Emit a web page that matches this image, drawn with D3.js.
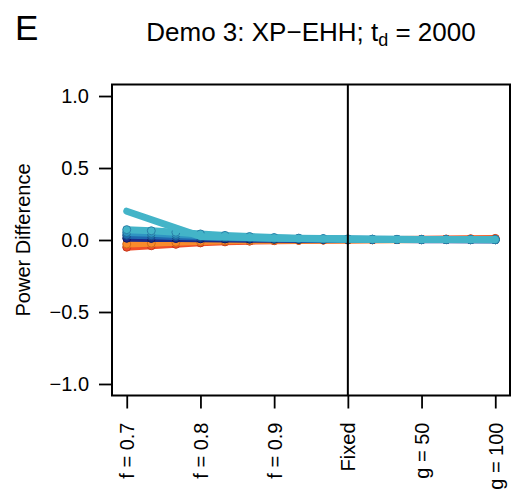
<!DOCTYPE html>
<html>
<head>
<meta charset="utf-8">
<script src="https://cdn.jsdelivr.net/npm/d3@7"></script>
<style>
body { margin: 0; background: #fff; }
text { font-family: "Liberation Sans", Arial, sans-serif; }
</style>
</head>
<body>
<script>
var categories = ["f = 0.7", "f = 0.8", "f = 0.9", "Fixed", "g = 50", "g = 100"];
var yTicks = [-1, -0.5, 0, 0.5, 1];

// 16 points per series, every third of a category step
var redVals    = [-0.050, -0.040, -0.030, -0.020, -0.013, -0.008, -0.005, -0.003, -0.001, 0.000, 0.002, 0.003, 0.005, 0.007, 0.009, 0.011];
var orangeVals = [-0.028, -0.022, -0.016, -0.010, -0.006, -0.004, -0.002, -0.001, 0.000, 0.000, 0.001, 0.002, 0.003, 0.004, 0.005, 0.006];
var navyVals   = [0.012, 0.011, 0.010, 0.008, 0.007, 0.006, 0.005, 0.004, 0.004, 0.003, 0.003, 0.003, 0.002, 0.002, 0.002, 0.002];
var blueVals   = [0.033, 0.029, 0.025, 0.020, 0.016, 0.012, 0.009, 0.007, 0.006, 0.005, 0.004, 0.003, 0.003, 0.003, 0.002, 0.002];
var midVals    = [0.052, 0.046, 0.039, 0.031, 0.024, 0.018, 0.013, 0.010, 0.008, 0.006, 0.005, 0.004, 0.003, 0.003, 0.003, 0.002];
var tealVals   = [0.072, 0.064, 0.054, 0.042, 0.032, 0.024, 0.017, 0.013, 0.010, 0.008, 0.006, 0.005, 0.004, 0.003, 0.003, 0.003];
// the lone steep line, one value per category
var topVals    = [0.20, 0.025, 0.012, 0.006, 0.004, 0.003];

var series = [
  {vals: redVals,    color: "#f04e2a", dark: "#c53a1c"},
  {vals: orangeVals, color: "#f98b2c", dark: "#d06a18"},
  {vals: navyVals,   color: "#1b2a88", dark: "#111a5e"},
  {vals: blueVals,   color: "#2068b0", dark: "#164d86"},
  {vals: midVals,    color: "#2f94c2", dark: "#1f6f98"},
  {vals: tealVals,   color: "#43b4c8", dark: "#2a7fa8"}
];

var W = 513, H = 496;
var svg = d3.select("body").append("svg").attr("width", W).attr("height", H);

var x = d3.scaleLinear().domain([0.8, 6.2]).range([112, 510]);
var y = d3.scaleLinear().domain([-1.08, 1.08]).range([395.5, 84.5]);

var line = d3.line()
  .x(function(d){ return x(d[0]); })
  .y(function(d){ return y(d[1]); });

series.forEach(function(s){
  var pts = s.vals.map(function(v, i){ return [1 + i / 3, v]; });
  svg.append("path")
    .attr("d", line(pts))
    .attr("fill", "none")
    .attr("stroke", s.color)
    .attr("stroke-width", 7)
    .attr("stroke-linecap", "round")
    .attr("stroke-linejoin", "round");
  svg.selectAll(null)
    .data(pts)
    .enter()
    .append("circle")
    .attr("cx", function(d){ return x(d[0]); })
    .attr("cy", function(d){ return y(d[1]); })
    .attr("r", 4)
    .attr("fill", s.color)
    .attr("stroke", s.dark)
    .attr("stroke-width", 1);
});

var topPts = topVals.map(function(v, i){ return [i + 1, v]; });
svg.append("path")
  .attr("d", line(topPts))
  .attr("fill", "none")
  .attr("stroke", "#43b4c8")
  .attr("stroke-width", 7)
  .attr("stroke-linecap", "round")
  .attr("stroke-linejoin", "round");

// vertical line at "Fixed"
svg.append("line")
  .attr("x1", x(4)).attr("x2", x(4))
  .attr("y1", y.range()[0]).attr("y2", y.range()[1])
  .attr("stroke", "#000").attr("stroke-width", 2);

// box
svg.append("rect")
  .attr("x", 112).attr("y", 84.5)
  .attr("width", 398).attr("height", 311)
  .attr("fill", "none").attr("stroke", "#000").attr("stroke-width", 2);

// y axis
var yAxis = d3.axisLeft(y).tickValues(yTicks).tickSize(13).tickPadding(10)
  .tickFormat(function(d){ return d3.format(".1f")(d).replace("-", "\u2212"); });
var gy = svg.append("g").attr("transform", "translate(112,0)").call(yAxis);
gy.select(".domain").remove();
gy.selectAll("line").attr("stroke-width", 1.8);
gy.selectAll("text").attr("font-size", 20).attr("fill", "#000")
  .attr("font-family", "Liberation Sans, Arial, sans-serif");

// x axis
var xAxis = d3.axisBottom(x).tickValues([1, 2, 3, 4, 5, 6]).tickSize(13)
  .tickFormat(function(d){ return categories[d - 1]; });
var gx = svg.append("g").attr("transform", "translate(0,395.5)").call(xAxis);
gx.select(".domain").remove();
gx.selectAll("line").attr("stroke-width", 1.8);
gx.selectAll("text")
  .attr("font-size", 20).attr("fill", "#000")
  .attr("font-family", "Liberation Sans, Arial, sans-serif")
  .attr("text-anchor", "end")
  .attr("dy", "0.35em")
  .attr("transform", "translate(0,27) rotate(-90)")
  .attr("y", 0).attr("x", 0);

// y label
svg.append("text")
  .attr("transform", "translate(30,240) rotate(-90)")
  .attr("text-anchor", "middle")
  .attr("font-size", 20)
  .text("Power Difference");

// title
var title = svg.append("text")
  .attr("x", 311).attr("y", 41)
  .attr("text-anchor", "middle")
  .attr("font-size", 26);
title.append("tspan").text("Demo 3: XP\u2212EHH; t");
title.append("tspan").attr("font-size", 18).attr("dy", 5).text("d");
title.append("tspan").attr("dy", -5).text(" = 2000");

svg.append("text")
  .attr("x", 15).attr("y", 40)
  .attr("font-size", 35)
  .text("E");
</script>
</body>
</html>
